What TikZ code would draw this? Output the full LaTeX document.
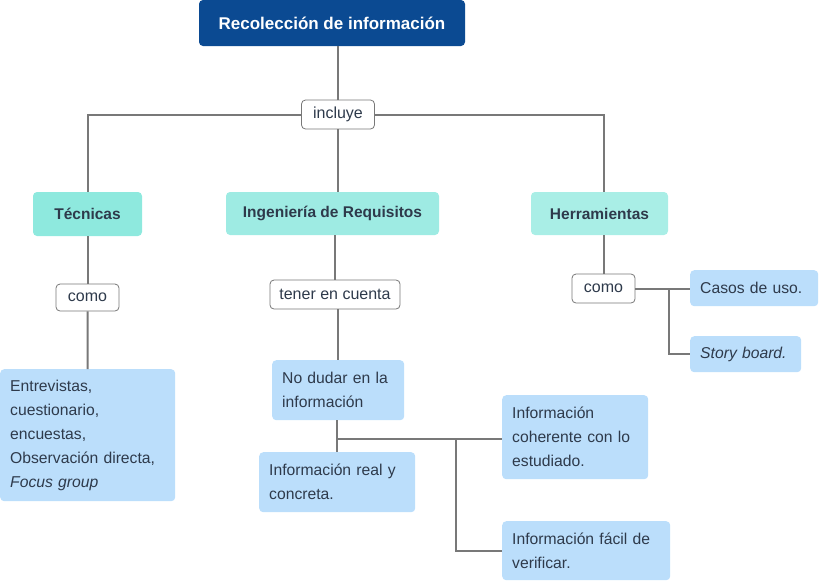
\documentclass[tikz,border=0pt]{standalone}
\usepackage{fontspec}
\setmainfont{Liberation Sans}
\definecolor{titlec}{RGB}{11,74,146}
\definecolor{tecc}{RGB}{142,233,222}
\definecolor{ingc}{RGB}{158,235,227}
\definecolor{herc}{RGB}{169,238,230}
\definecolor{leafc}{RGB}{187,222,251}
\definecolor{txtc}{RGB}{46,58,75}
\definecolor{linec}{RGB}{120,120,120}
\begin{document}
\begin{tikzpicture}[x=1pt,y=-1pt,
  every node/.style={text=txtc},
  titlebox/.style={fill=titlec, rounded corners=4pt, inner sep=0pt, text=white,
    font=\fontsize{17}{20}\selectfont\bfseries},
  catbox/.style={rounded corners=4pt, inner sep=0pt,
    font=\fontsize{15.5}{18}\selectfont\bfseries},
  lblbox/.style={fill=white, draw=linec, line width=0.8pt, rounded corners=4pt, inner sep=0pt,
    font=\fontsize{16}{18}\selectfont},
  leaf/.style={fill=leafc, rounded corners=4pt, inner xsep=10pt, inner ysep=0pt, align=left,
    anchor=north west, font=\fontsize{15.7}{24}\selectfont},
  conn/.style={draw=linec, line width=2pt}]
\useasboundingbox (0,0) rectangle (819,582);

% title
\node[titlebox, minimum width=266pt, minimum height=46pt] (title) at (332,23) {Recolección de información};
\node[lblbox, minimum width=73pt, minimum height=29pt] (incl) at (338,114.5) {incluye};

% categories
\node[catbox, fill=tecc, minimum width=109pt, minimum height=44pt] (tec) at (87.5,214) {Técnicas};
\node[catbox, fill=ingc, minimum width=213pt, minimum height=43pt] (ing) at (332.5,213.5) {Ingeniería de Requisitos};
\node[catbox, fill=herc, minimum width=137pt, minimum height=43pt] (herr) at (599.5,213.5) {Herramientas};

% labels
\node[lblbox, minimum width=63pt, minimum height=27pt] (como1) at (87.5,297.5) {como};
\node[lblbox, minimum width=130pt, minimum height=29pt] (tener) at (335,294.5) {tener en cuenta};
\node[lblbox, minimum width=63pt, minimum height=29pt] (como2) at (603.5,288.5) {como};

% leaves
\node[leaf, text width=155pt, minimum height=132pt] (entr) at (0,369)
  {Entrevistas,\\cuestionario,\\encuestas,\\Observación directa,\\\textit{Focus group}};
\node[leaf, text width=112pt, minimum height=60pt] (nodud) at (272,360)
  {No dudar en la\\información};
\node[leaf, text width=136pt, minimum height=60pt] (real) at (259,452)
  {Información real y\\concreta.};
\node[leaf, text width=126pt, minimum height=84pt] (coh) at (502,395)
  {Información\\coherente con lo\\estudiado.};
\node[leaf, text width=148pt, minimum height=59pt] (fac) at (502,521)
  {Información fácil de\\verificar.};
\node[leaf, text width=108pt, minimum height=36pt] (casos) at (690,270)
  {Casos de uso.};
\node[leaf, text width=91pt, minimum height=36pt] (story) at (690,336)
  {\textit{Story board.}};

% connectors
\draw[conn] (title.south -| incl.north) -- (incl.north);
\draw[conn] (incl.west) -| (tec.north);
\draw[conn] (incl.east) -| (como2.north |- herr.north);
\draw[conn] (incl.south) -- (incl.south |- ing.north);

\draw[conn] (tec.south) -- (como1.north);
\draw[conn] (como1.south) -- (entr.north);

\draw[conn] (tener.north |- ing.south) -- (tener.north);
\draw[conn] (tener.south -| nodud.north) -- (nodud.north);
\coordinate (j1) at (337,439);
\coordinate (j2) at (456,439);
\draw[conn] (nodud.south -| real.north) -- (real.north);
\draw[conn] (j1) -- (j1 -| coh.west);
\draw[conn] (j2) |- (fac.west);

\draw[conn] (como2.north |- herr.south) -- (como2.north);
\coordinate (j3) at (669,289);
\draw[conn] (como2.east) -- (como2.east -| casos.west);
\draw[conn] (j3) |- (story.west);
\end{tikzpicture}
\end{document}
